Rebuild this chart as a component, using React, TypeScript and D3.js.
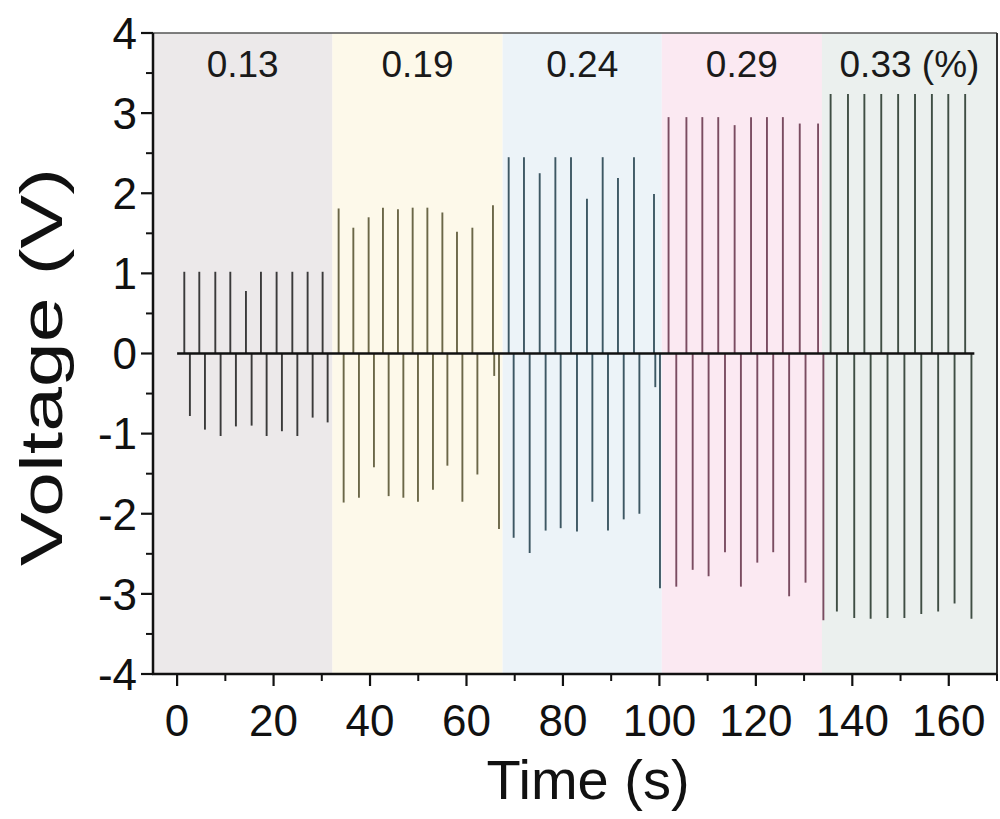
import React from 'react';
import * as d3 from 'd3';

// strain bands (%)
const bandLabels = ['0.13', '0.19', '0.24', '0.29', '0.33 (%)'];
const bandEdges = [-5, 32.2, 67.5, 100.5, 133.7, 170];
const bandFills = ['#ece9ea', '#fdf9ea', '#ecf3f8', '#fbe9f2', '#ebf0ee'];
const spikeColors = ['#3a3a3a', '#6b6748', '#3d5763', '#7a4c61', '#3f4e44'];

// spike times (s) and peak voltages (V), per band
const t1 = [1.49, 2.65, 4.6, 5.77, 7.92, 9.02, 11.03, 12.19, 14.27, 15.45, 17.38, 18.56, 20.63, 21.73, 23.89, 24.93, 27.06, 28.1, 30.17, 31.21];
const v1 = [1.02, -0.78, 1.02, -0.95, 1.02, -1.03, 1.02, -0.91, 0.78, -0.9, 1.02, -1.03, 1.02, -0.97, 1.02, -1.03, 1.02, -0.8, 1.02, -0.86];

const t2 = [33.49, 34.53, 36.54, 37.7, 39.71, 40.81, 42.68, 43.86, 45.79, 46.91, 48.84, 49.94, 51.89, 53.05, 55.0, 56.04, 58.03, 59.15, 61.22, 62.26, 65.49, 65.75, 66.74];
const v2 = [1.81, -1.86, 1.57, -1.8, 1.7, -1.42, 1.82, -1.78, 1.8, -1.8, 1.82, -1.85, 1.82, -1.7, 1.76, -1.4, 1.52, -1.85, 1.57, -1.51, 1.85, -0.28, -2.19];

const t3 = [68.75, 69.78, 71.92, 73.1, 75.18, 76.41, 78.43, 79.53, 81.67, 82.91, 84.98, 86.1, 88.24, 89.34, 91.41, 92.6, 94.73, 95.85, 98.88, 99.15, 100.12];
const v3 = [2.45, -2.3, 2.45, -2.49, 2.25, -2.21, 2.45, -2.18, 2.45, -2.22, 1.93, -1.85, 2.45, -2.21, 2.19, -2.07, 2.45, -2.0, 1.99, -0.42, -2.93];

const t4 = [101.9, 103.5, 105.6, 106.9, 108.9, 110.2, 112.2, 113.6, 115.6, 116.9, 119.0, 120.3, 122.3, 123.6, 125.6, 126.9, 129.1, 130.3, 132.9, 134.0];
const v4 = [2.95, -2.91, 2.95, -2.7, 2.95, -2.78, 2.95, -2.48, 2.85, -2.91, 2.95, -2.61, 2.95, -2.48, 2.95, -3.03, 2.87, -2.86, 2.87, -3.33];

const t5 = [135.5, 136.8, 139.1, 140.4, 142.5, 143.8, 146.0, 147.3, 149.5, 150.8, 153.0, 154.3, 156.5, 157.8, 159.9, 161.2, 163.4, 164.7];
const v5 = [3.24, -3.22, 3.24, -3.3, 3.24, -3.31, 3.24, -3.3, 3.24, -3.3, 3.24, -3.25, 3.24, -3.22, 3.24, -3.12, 3.24, -3.31];

const spikeTimes = [t1, t2, t3, t4, t5];
const spikeVolts = [v1, v2, v3, v4, v5];

const traceStart = 0;
const traceEnd = 165.3;

const xTicks = [0, 20, 40, 60, 80, 100, 120, 140, 160];
const yTicks = [-4, -3, -2, -1, 0, 1, 2, 3, 4];

const W = 1000;
const H = 819;
const m = { left: 153, right: 997, top: 33, bottom: 674 };
const font = '"Liberation Sans", Arial, sans-serif';

export default function App() {
  const x = d3.scaleLinear().domain([-5, 170]).range([m.left, m.right]);
  const y = d3.scaleLinear().domain([-4, 4]).range([m.bottom, m.top]);

  const spikes = spikeTimes.flatMap((ts, s) =>
    ts.map((t, i) => ({ t, v: spikeVolts[s][i], seg: s }))
  );

  const xMinor = d3.range(0, 171, 10).filter(d => !xTicks.includes(d));
  const yMinor = d3.range(-3.5, 4, 1);

  return (
    <svg width={W} height={H} style={{ position: 'absolute', left: 0, top: 0, background: '#fff' }} fontFamily={font}>
      {bandLabels.map((lab, i) => (
        <rect key={'b' + i} x={x(bandEdges[i])} y={m.top} width={x(bandEdges[i + 1]) - x(bandEdges[i])}
          height={m.bottom - m.top} fill={bandFills[i]} />
      ))}
      {bandLabels.map((lab, i) => (
        <text key={'l' + i} x={(x(bandEdges[i]) + x(bandEdges[i + 1])) / 2} y={77} fontSize={37}
          textAnchor="middle" fill="#1a1a1a">{lab}</text>
      ))}

      {spikes.map((d, i) => (
        <line key={'s' + i} x1={x(d.t)} x2={x(d.t)} y1={y(0)} y2={y(d.v)}
          stroke={spikeColors[d.seg]} strokeWidth={1.9} />
      ))}
      <line x1={x(traceStart)} x2={x(traceEnd)} y1={y(0)} y2={y(0)} stroke="#111" strokeWidth={2.6} />

      {/* frame */}
      <line x1={m.left} x2={m.right} y1={m.top} y2={m.top} stroke="#555" strokeWidth={1.5} />
      <line x1={m.right} x2={m.right} y1={m.top} y2={m.bottom} stroke="#333" strokeWidth={2} />
      <line x1={m.left} x2={m.left} y1={m.top} y2={m.bottom + 1} stroke="#111" strokeWidth={2.5} />
      <line x1={m.left - 1} x2={m.right} y1={m.bottom} y2={m.bottom} stroke="#111" strokeWidth={2.5} />

      {xTicks.map(d => (
        <g key={'xt' + d}>
          <line x1={x(d)} x2={x(d)} y1={m.bottom} y2={m.bottom + 12} stroke="#111" strokeWidth={2.2} />
          <text x={x(d)} y={736} fontSize={44} textAnchor="middle" fill="#111">{d}</text>
        </g>
      ))}
      {xMinor.map(d => (
        <line key={'xm' + d} x1={x(d)} x2={x(d)} y1={m.bottom} y2={m.bottom + 7} stroke="#111" strokeWidth={2} />
      ))}
      {yTicks.map(d => (
        <g key={'yt' + d}>
          <line x1={m.left - 12} x2={m.left} y1={y(d)} y2={y(d)} stroke="#111" strokeWidth={2.2} />
          <text x={137} y={y(d)} dy="0.36em" fontSize={44} textAnchor="end" fill="#111">{d}</text>
        </g>
      ))}
      {yMinor.map(d => (
        <line key={'ym' + d} x1={m.left - 7} x2={m.left} y1={y(d)} y2={y(d)} stroke="#111" strokeWidth={2} />
      ))}

      <text x={588} y={799} fontSize={56} textAnchor="middle" fill="#111">Time (s)</text>
      <text transform="translate(62,367) rotate(-90)" fontSize={60} textAnchor="middle" fill="#111"
        textLength={398} lengthAdjust="spacingAndGlyphs">Voltage (V)</text>
    </svg>
  );
}
